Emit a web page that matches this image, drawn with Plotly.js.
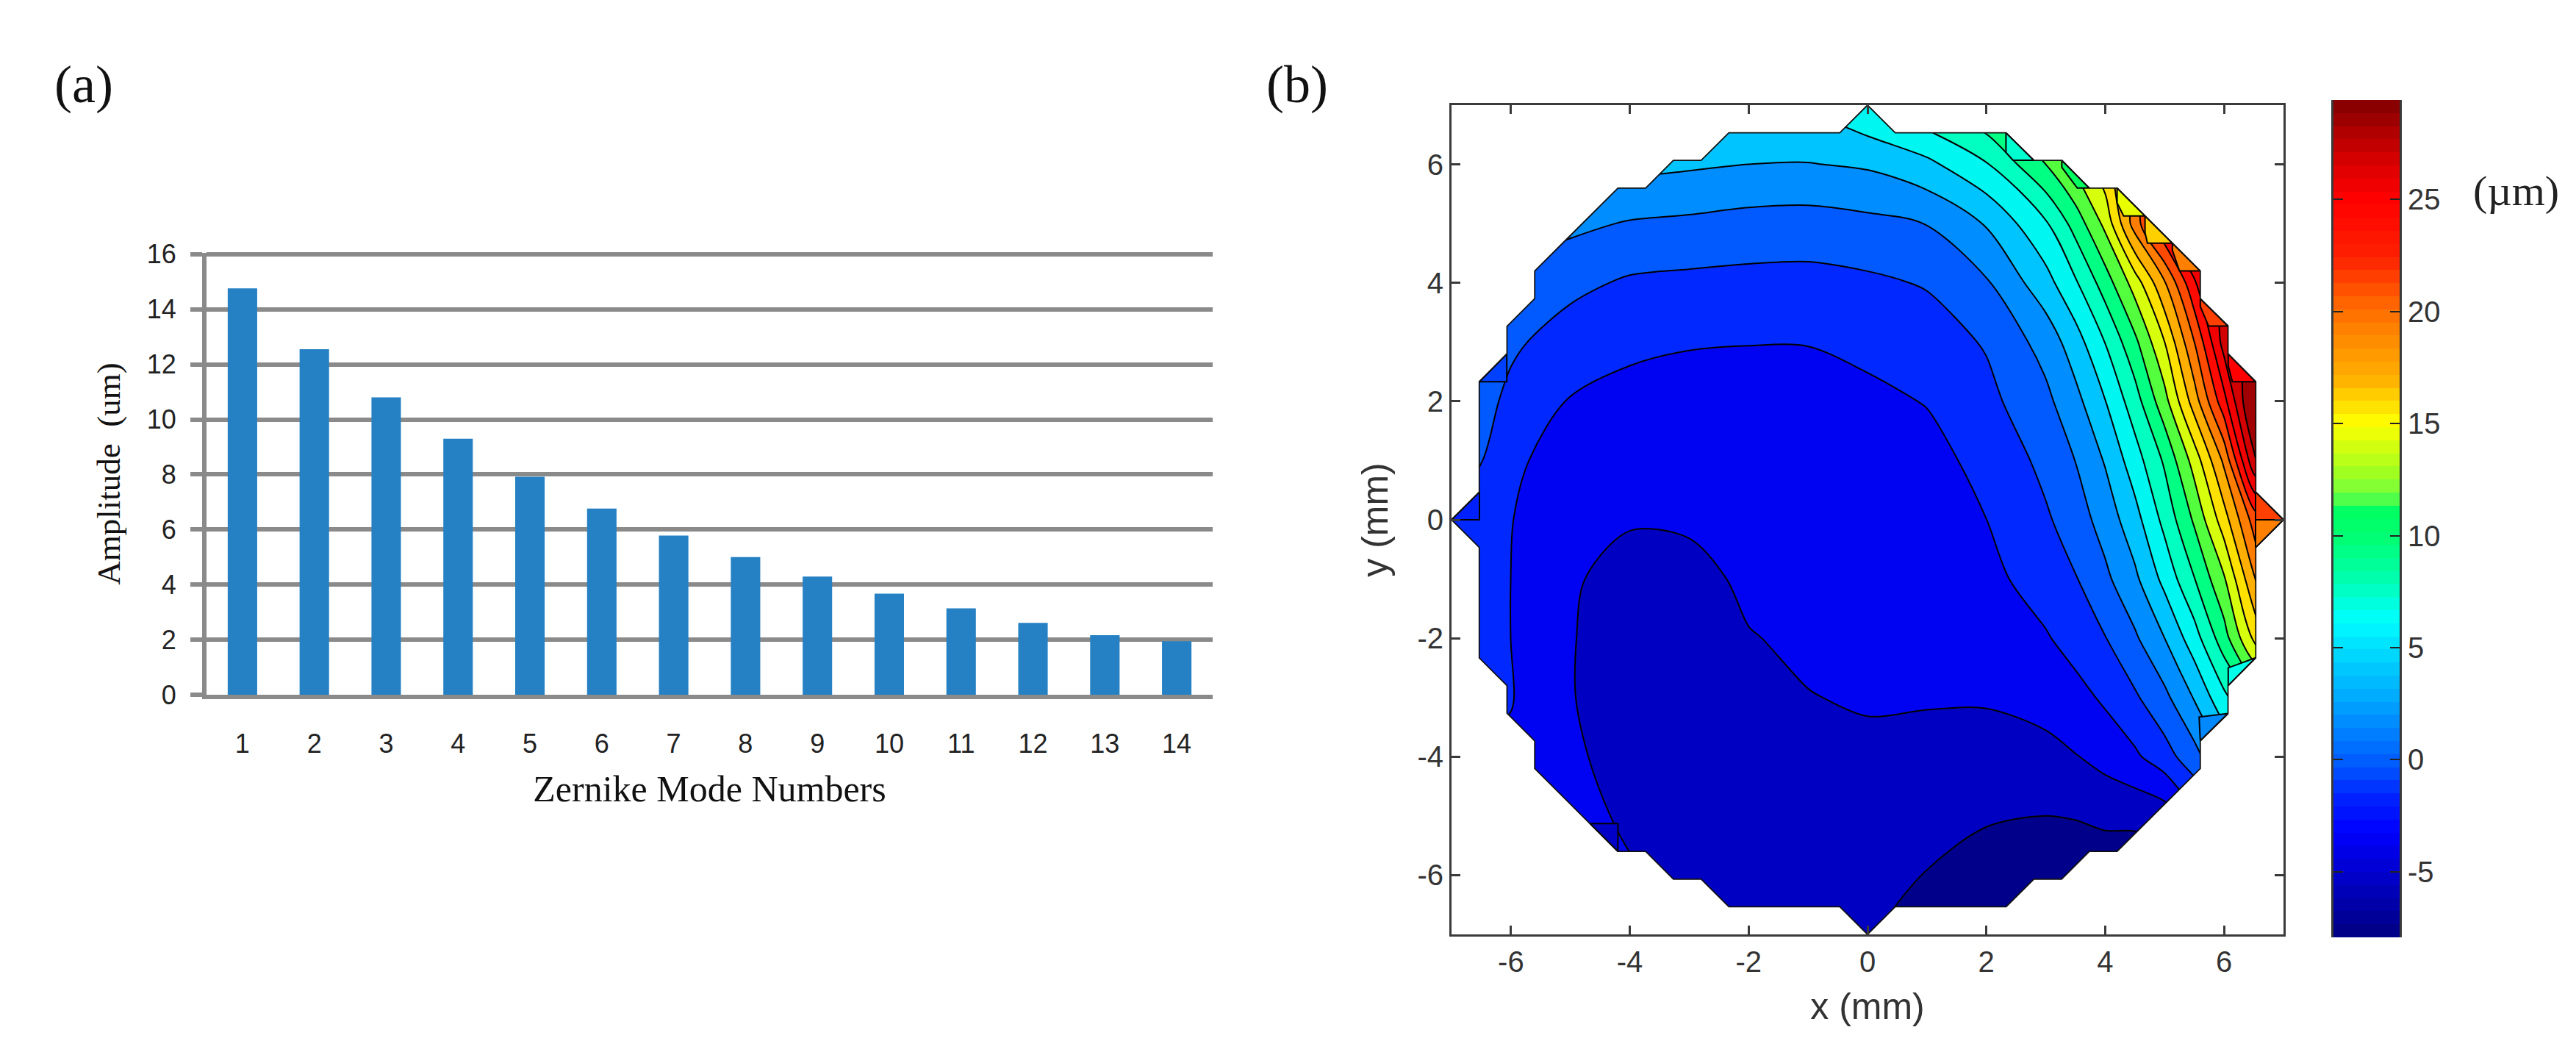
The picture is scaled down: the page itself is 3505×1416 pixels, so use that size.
<!DOCTYPE html>
<html><head><meta charset="utf-8">
<script src="https://cdn.plot.ly/plotly-3.0.1.min.js"></script>
<style>html,body{margin:0;padding:0;background:#fff}</style></head>
<body><div id="chart" style="width:3505px;height:1416px"></div>
<script>
// ---- panel (a) ----
const modeNumbers = [1,2,3,4,5,6,7,8,9,10,11,12,13,14];
const amplitudes = [14.76,12.55,10.8,9.3,7.92,6.76,5.78,5.0,4.29,3.67,3.14,2.61,2.16,1.94];
const ampTicks = [0,2,4,6,8,10,12,14,16];

// ---- panel (b) : surface in micrometres ----
const xGrid = [-7,-6,-5,-4,-3,-2,-1,0,1,2,3,3.5,4,4.5,5,5.5,6,6.5,7];
const yGrid = [7,6,5,4,3,2,1,0,-1,-2,-3,-4,-5,-6,-7];
const zRow7  = [5,4.8,4.6,4.4,4.4,4.5,4.8,6.2,7.9,9.9,13,16,18,20,23,25,27,29,31];
const zRow6  = [4.2,3.9,3.6,3.3,3.0,2.74,2.67,2.97,4.06,6.15,9.85,12.2,14.7,17.5,20.5,23,25.5,28,30];
const zRow5  = [2.2,1.8,1.4,.82,.6,.3,.2,.51,1.0,2.88,6.07,8.77,12.1,17.85,22.5,26,28,30,31];
const zRow4  = [1.3,.5,-.35,-1.06,-1.24,-1.34,-1.38,-1.14,-.68,.76,3.85,6.07,8.93,12.43,16.8,22.08,25,27,30];
const zRow3  = [1.1,-.5,-1.65,-2.29,-2.51,-2.57,-2.57,-2.34,-1.67,-.66,1.65,3.73,6.35,9.42,13.41,18.74,24.83,26.5,30];
const zRow2  = [.9,-1.26,-2.7,-3.05,-3.1,-2.96,-2.9,-2.83,-2.55,-1.32,.53,2.19,4.47,7.28,10.99,16.07,21.71,28.2,31];
const zRow1  = [.7,-2.2,-3.5,-3.65,-3.64,-3.32,-3.19,-3.12,-2.92,-2.3,-.29,.99,2.89,5.49,8.34,12.36,17.34,25.4,30];
const zRow0  = [-1.2,-2.55,-3.6,-4.25,-4.13,-3.69,-3.5,-3.41,-3.26,-2.6,-1.07,.1,1.69,3.86,6.82,10.12,14.39,19.47,22];
const zRowM1 = [-1.5,-2.6,-4.2,-4.9,-4.9,-4.06,-3.8,-3.7,-3.6,-3.14,-1.72,-.92,.58,2.37,5.04,8.01,11.42,16.71,22];
const zRowM2 = [-1.8,-2.6,-4.3,-5.0,-5.0,-4.45,-4.1,-3.99,-3.94,-3.68,-2.76,-1.87,-.88,.70,2.74,5.53,9.09,13.7,18];
const zRowM3 = [-2,-2.5,-4.3,-5.1,-5.2,-5.0,-4.42,-4.22,-4.24,-4.22,-3.74,-3.21,-2.3,-1.07,.52,2.88,5.87,8.5,11];
const zRowM4 = [-2.5,-2.9,-4.1,-5.0,-5.2,-5.2,-4.9,-4.7,-4.87,-5.04,-4.88,-4.45,-3.77,-2.9,-1.56,.3,2.8,5.5,8];
const zRowM5 = [-2.8,-3.2,-3.8,-4.65,-5.0,-5.3,-5.3,-5.2,-5.54,-5.98,-6.15,-6.07,-5.74,-5.68,-5.3,-3,-1,2,5];
const zRowM6 = [-3,-3.1,-3.6,-4.2,-4.8,-5.3,-5.6,-5.75,-6.2,-6.9,-7.1,-7.2,-7.4,-7.5,-7,-6,-5,-3,0];
const zRowM7 = [-3,-3,-3.4,-4,-4.7,-5.4,-5.8,-6.05,-6.9,-7.8,-7.9,-8,-8.2,-8.2,-8,-8,-8,-6,-3];
const zSurface = [zRow7,zRow6,zRow5,zRow4,zRow3,zRow2,zRow1,zRow0,zRowM1,zRowM2,zRowM3,zRowM4,zRowM5,zRowM6,zRowM7];

const levelStart = -6.15, levelEnd = 27.63, levelStep = 1.778;
const bandColors = ['#00008a','#0000bf','#0000f0','#0020ff','#0050ff','#0080ff','#00b0ff','#00f0ff',
  '#00ffd8','#00ffa0','#00ff60','#a0ff20','#ffff00','#ffd000','#ffa000','#ff7000','#ff4000','#ff0000',
  '#f00000','#d00000','#a00000'];

// small edge cells of the original plot, each filled with one flat colour
const edgeCellX = [[2.33,2.8,2.45,2.33],[3.27,3.73,3.53,3.27],[4.2,4.67,4.31,4.2],[4.67,5.13,4.71,4.67],[5.13,5.6,5.25,5.13],
  [5.6,6.07,5.74,5.6],[6.07,6.53,6.14,6.07],[6.53,7,6.53],[6.53,7,6.53],[-7,-6.53,-6.53],[6.53,6.07,6.07],[6.07,5.6,5.58],[-6.53,-6.07,-6.07],[-4.67,-4.2,-4.2]];
const edgeCellY = [[6.53,6.07,6.07,6.2],[6.07,5.6,5.6,5.95],[5.6,5.13,5.13,5.35],[5.13,4.67,4.67,4.85],[4.67,4.2,4.2,4.55],
  [3.73,3.27,3.27,3.6],[2.8,2.33,2.33,2.6],[0,0,0.47],[0,0,-0.47],[0,0.47,0],[-2.33,-2.8,-2.5],[-3.27,-3.73,-3.33],[2.33,2.8,2.33],[-5.13,-5.6,-5.13]];
const edgeCellFill = ['#00ffd0','#00ff60','#e8ff00','#ffd000','#ff8000','#ff4000','#ff0000','#ff4000','#ff8000','#0020ff','#00ffe8','#0088ff','#0040ff','#0000c8'];

const spatialTicks = [-6,-4,-2,0,2,4,6];
const spatialLabels = ['-6','-4','-2','0','2','4','6'];

// ---- colour bar ----
const barMin = -7.93, barMax = 29.44, barSteps = 64;
const barStopValues = [-7.93,-5,-3.2,-1.8,0,2.4,5,6.2,8,10,11.2,11.8,12.8,15,17,20,22.5,25,27,29.44];
const barStopColors = ['#000080','#0000d0','#0000ff','#0020ff','#0060ff','#00a0ff','#00e0ff','#00ffff','#00ffb0','#00ff70','#00ff60','#70ff40','#a0ff20','#ffff00','#ffb000','#ff7000','#ff2000','#ff0000','#d00000','#800000'];
const barTicks = [-5,0,5,10,15,20,25];
const barLabels = ['-5','0','5','10','15','20','25'];

// ---- circular data mask ----
const maskRadius = 7, maskCells = 30, maskH = 14/maskCells;
const rowExtent = [];
for (let j=0;j<=maskCells;j++){
  const y = 7-j*maskH; let best = 0;
  for (let i=0;i<=maskCells;i++){ const x=i*maskH-7; if (x*x+y*y<=maskRadius*maskRadius+1e-6) best=Math.max(best,x); }
  rowExtent.push({y,x:best});
}
const ring = [];
rowExtent.forEach((r,j)=>{
  const p = rowExtent[j-1], n = rowExtent[j+1];
  if (p) ring.push([Math.min(r.x,p.x+maskH),r.y]);
  ring.push([r.x,r.y]);
  if (n) ring.push([Math.min(r.x,n.x+maskH),r.y]);
});
for (let j=rowExtent.length-1;j>=0;j--){
  const r=rowExtent[j], p=rowExtent[j+1], n=rowExtent[j-1];
  if (p) ring.push([-Math.min(r.x,p.x+maskH),r.y]);
  ring.push([-r.x,r.y]);
  if (n) ring.push([-Math.min(r.x,n.x+maskH),r.y]);
}
const ringX = ring.map(p=>p[0]), ringY = ring.map(p=>p[1]);
const maskX = [0,-7,-7,7,7,0].concat(ringX), maskY = [7,7,-7,-7,7,7].concat(ringY);

// ---- colour bar cells ----
const barY = [], barZ = [];
for (let i=0;i<barSteps;i++){ const v=barMin+(i+0.5)*(barMax-barMin)/barSteps; barY.push(v); barZ.push([v]); }
const barScale = barStopValues.map((v,i)=>[(v-barMin)/(barMax-barMin),barStopColors[i]]);
const contourScale = bandColors.map((c,i)=>[i/(bandColors.length-1),c]);

const W=3505,H=1416;
const dx=(a,b)=>[a/W,b/W], dy=(top,bot)=>[(H-bot)/H,(H-top)/H];
const sans='"Liberation Sans", Arial, sans-serif', serif='"Liberation Serif", "Times New Roman", serif';
const grayAx='#8a8a8a', dark='#3a3a3a';

const traces = [
 {type:'bar',x:modeNumbers,y:amplitudes,width:0.41,marker:{color:'#2581c4',line:{width:0}},xaxis:'x',yaxis:'y',showlegend:false,hoverinfo:'x+y'},
 {type:'contour',x:xGrid,y:yGrid,z:zSurface,xaxis:'x2',yaxis:'y2',autocontour:false,
  contours:{start:levelStart,end:levelEnd,size:levelStep,coloring:'fill',showlines:true},
  colorscale:contourScale,showscale:false,line:{color:'#000',width:2,smoothing:0.9},connectgaps:true},
 {type:'scatter',mode:'lines',x:maskX,y:maskY,xaxis:'x2',yaxis:'y2',fill:'toself',fillcolor:'#fff',line:{width:0,color:'#fff'},showlegend:false,hoverinfo:'skip'}
];
edgeCellX.forEach((xs,i)=>traces.push({type:'scatter',mode:'lines',x:xs.concat(xs[0]),y:edgeCellY[i].concat(edgeCellY[i][0]),xaxis:'x2',yaxis:'y2',
  fill:'toself',fillcolor:edgeCellFill[i],line:{color:'#000',width:2},showlegend:false,hoverinfo:'skip'}));
traces.push({type:'scatter',mode:'lines',x:ringX,y:ringY,xaxis:'x2',yaxis:'y2',line:{color:'#111',width:1.8},showlegend:false,hoverinfo:'skip'});
traces.push({type:'heatmap',x:[0,1],y:barY,z:barZ.map(r=>[r[0],r[0]]),xaxis:'x3',yaxis:'y3',zmin:barMin,zmax:barMax,colorscale:barScale,showscale:false,hoverinfo:'z'});

const layout = {
 width:W,height:H,margin:{l:0,r:0,t:0,b:0},paper_bgcolor:'#fff',plot_bgcolor:'#fff',showlegend:false,
 xaxis:{domain:dx(281,1650),range:[0.5,14.5],tickmode:'array',tickvals:modeNumbers,ticks:'',showgrid:false,zeroline:false,
   showline:true,linecolor:grayAx,linewidth:6,ticklabelstandoff:30,tickfont:{family:sans,size:36,color:'#222'},
   title:{text:'Zernike Mode Numbers',standoff:26,font:{family:serif,size:50,color:'#111'}}},
 yaxis:{domain:dy(344,945),range:[0,16.05],tickmode:'array',tickvals:ampTicks,ticks:'outside',ticklen:16,tickwidth:6,tickcolor:grayAx,
   showgrid:true,gridcolor:grayAx,gridwidth:6,zeroline:false,showline:true,linecolor:grayAx,linewidth:6,ticklabelstandoff:12,
   tickfont:{family:sans,size:36,color:'#222'},
   title:{text:'Amplitude  (um)',standoff:24,font:{family:serif,size:45,color:'#111'}}},
 xaxis2:{domain:dx(1975,3107),range:[-7,7],anchor:'y2',tickmode:'array',tickvals:spatialTicks,ticktext:spatialLabels,ticks:'inside',ticklen:12,tickwidth:3,tickcolor:dark,
   showgrid:false,zeroline:false,showline:true,mirror:'ticks',linecolor:dark,linewidth:3,tickfont:{family:sans,size:40,color:'#333'},
   title:{text:'x (mm)',standoff:22,font:{family:sans,size:50,color:'#333'}}},
 yaxis2:{domain:dy(143,1271),range:[-7,7],anchor:'x2',tickmode:'array',tickvals:spatialTicks,ticktext:spatialLabels,ticks:'inside',ticklen:12,tickwidth:3,tickcolor:dark,
   showgrid:false,zeroline:false,showline:true,mirror:'ticks',linecolor:dark,linewidth:3,tickfont:{family:sans,size:40,color:'#333'},
   title:{text:'y (mm)',standoff:24,font:{family:sans,size:50,color:'#333'}}},
 xaxis3:{domain:dx(3175,3265),range:[0,1],anchor:'y3',showticklabels:false,ticks:'',showgrid:false,zeroline:false,showline:false},
 yaxis3:{domain:dy(136,1275),range:[barMin,barMax],anchor:'x3',side:'right',tickmode:'array',tickvals:barTicks,ticktext:barLabels,ticks:'inside',ticklen:13,tickwidth:2,tickcolor:'#222',
   showgrid:false,zeroline:false,showline:true,mirror:'all',linecolor:dark,linewidth:3,tickfont:{family:sans,size:40,color:'#333'}},
 annotations:[
  {text:'(a)',xref:'paper',yref:'paper',x:114/W,y:1-115/H,showarrow:false,xanchor:'center',yanchor:'middle',font:{family:serif,size:72,color:'#111'}},
  {text:'(b)',xref:'paper',yref:'paper',x:1765/W,y:1-115/H,showarrow:false,xanchor:'center',yanchor:'middle',font:{family:serif,size:72,color:'#111'}},
  {text:'(\u00b5m)',xref:'paper',yref:'paper',x:3423/W,y:1-259/H,showarrow:false,xanchor:'center',yanchor:'middle',font:{family:serif,size:58,color:'#222'}}
 ]
};
Plotly.newPlot('chart',traces,layout,{staticPlot:true,displayModeBar:false});
</script></body></html>
